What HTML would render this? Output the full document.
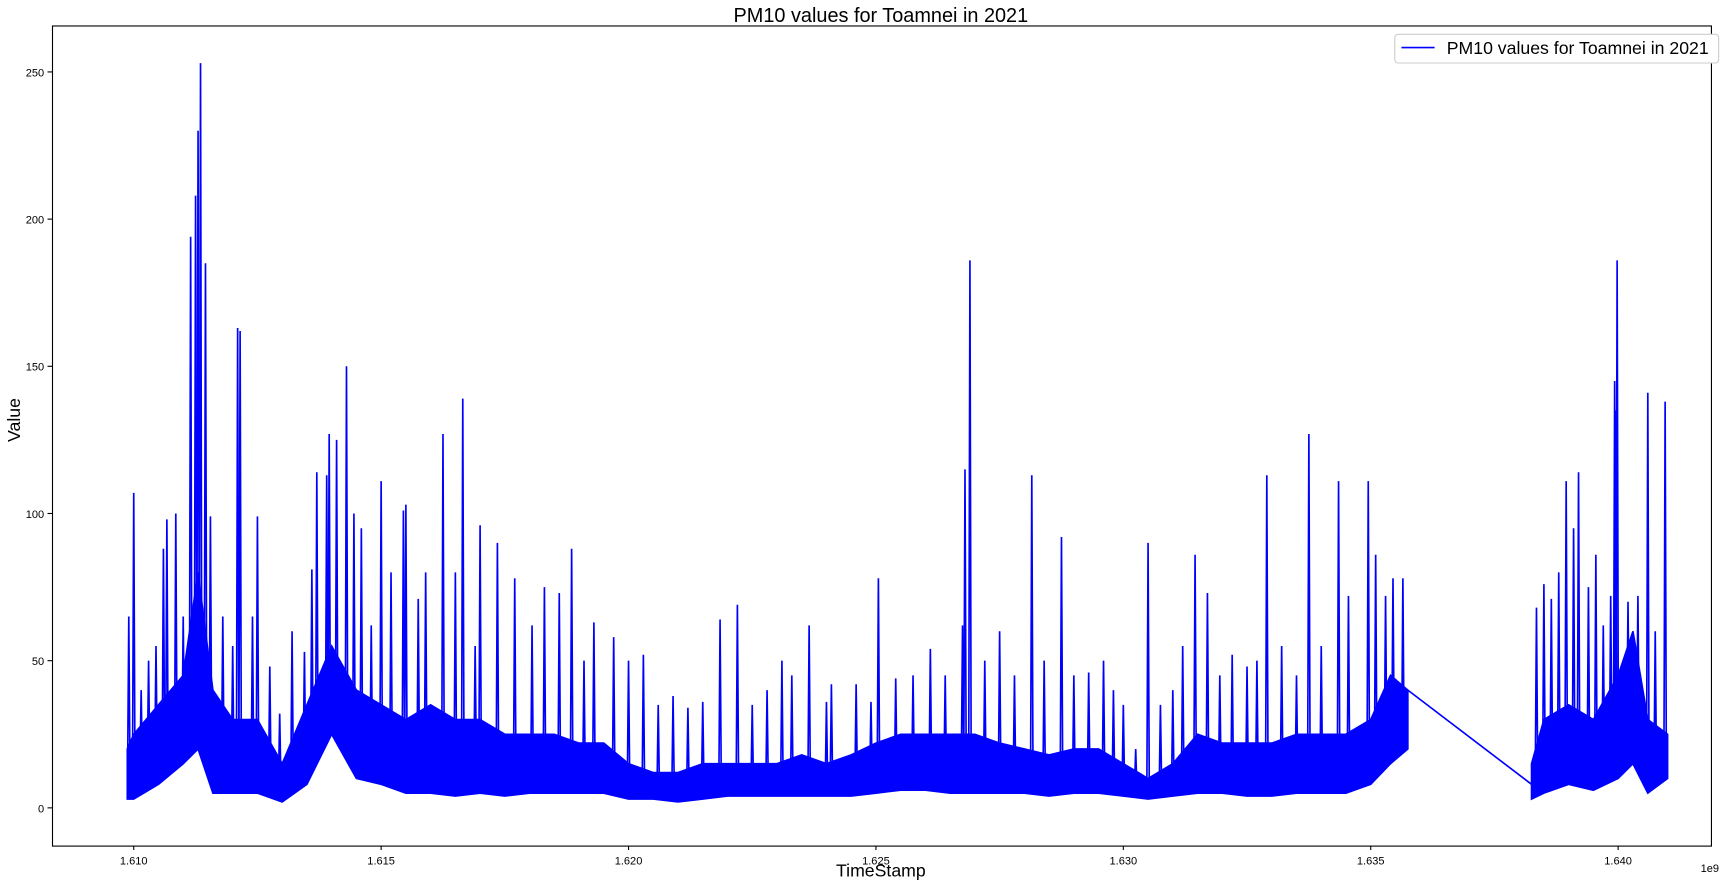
<!DOCTYPE html>
<html><head><meta charset="utf-8"><style>
html,body{margin:0;padding:0;background:#fff;}
svg{display:block;font-family:"Liberation Sans","DejaVu Sans",sans-serif;}
</style></head><body>
<svg id="chart" width="1733" height="885" viewBox="0 0 1568 800.7" preserveAspectRatio="none">
<text x="797" y="20" text-anchor="middle" font-size="18">PM10 values for Toamnei in 2021</text>
<text x="797" y="793" text-anchor="middle" font-size="16">TimeStamp</text>
<text x="18" y="380" text-anchor="middle" font-size="16" transform="rotate(-90 18 380)">Value</text>
<text x="1547" y="789" text-anchor="middle" font-size="10">1e9</text>
<g id="marks"></g>
<g id="axes"></g>
<rect x="47.5" y="23.5" width="1501" height="742" fill="none" stroke="#000" stroke-width="1"/>
<g>
<rect x="1262" y="31" width="293" height="26" rx="3" fill="#fff" stroke="#ccc"/>
<line x1="1268" y1="43" x2="1298" y2="43" stroke="#0000ff" stroke-width="1.5"/>
<text x="1309" y="49" font-size="16">PM10 values for Toamnei in 2021</text>
</g>
</svg>
<script>
const xTicks=[1610,1615,1620,1625,1630,1635,1640];
const xTickLabels=["1.610","1.615","1.620","1.625","1.630","1.635","1.640"];
const yTicks=[0,50,100,150,200,250];
const bandTimes1=[1609.87,1610,1610.5,1611,1611.3,1611.6,1612,1612.5,1613,1613.5,1614,1614.5,1615,1615.5,1616,1616.5,1617,1617.5,1618,1618.5,1619,1619.5,1620,1620.5,1621,1621.5,1622,1622.5,1623,1623.5,1624,1624.5,1625,1625.5,1626,1626.5,1627,1627.5,1628,1628.5,1629,1629.5,1630,1630.5,1631,1631.5,1632,1632.5,1633,1633.5,1634,1634.5,1635,1635.4,1635.75];
const bandTop1=[20,25,35,45,80,40,30,30,15,35,55,40,35,30,35,30,30,25,25,25,22,22,15,12,12,15,15,15,15,18,15,18,22,25,25,25,25,22,20,18,20,20,15,10,15,25,22,22,22,25,25,25,30,45,40];
const bandBottom1=[3,3,8,15,20,5,5,5,2,8,25,10,8,5,5,4,5,4,5,5,5,5,3,3,2,3,4,4,4,4,4,4,5,6,6,5,5,5,5,4,5,5,4,3,4,5,5,4,4,5,5,5,8,15,20];
const bandTimes2=[1638.25,1638.5,1639,1639.5,1640,1640.3,1640.6,1641];
const bandTop2=[15,30,35,30,45,60,30,25];
const bandBottom2=[3,5,8,6,10,15,5,10];
const gapTimes=[1635.75,1638.25];
const gapValues=[40,8];
const spikeTimes=[1609.9,1610.0,1610.15,1610.3,1610.45,1610.6,1610.67,1610.85,1611.0,1611.15,1611.25,1611.3,1611.35,1611.45,1611.55,1611.8,1612.0,1612.1,1612.15,1612.4,1612.5,1612.75,1612.95,1613.2,1613.45,1613.6,1613.7,1613.9,1613.95,1614.1,1614.3,1614.45,1614.6,1614.8,1615.0,1615.2,1615.45,1615.5,1615.75,1615.9,1616.25,1616.5,1616.65,1616.9,1617.0,1617.35,1617.7,1618.05,1618.3,1618.6,1618.85,1619.1,1619.3,1619.7,1620.0,1620.3,1620.6,1620.9,1621.2,1621.5,1621.85,1622.2,1622.5,1622.8,1623.1,1623.3,1623.65,1624.0,1624.1,1624.6,1624.9,1625.05,1625.4,1625.75,1626.1,1626.4,1626.75,1626.8,1626.9,1627.2,1627.5,1627.8,1628.15,1628.4,1628.75,1629.0,1629.3,1629.6,1629.8,1630.0,1630.25,1630.5,1630.75,1631.0,1631.2,1631.45,1631.7,1631.95,1632.2,1632.5,1632.7,1632.9,1633.2,1633.5,1633.75,1634.0,1634.35,1634.55,1634.95,1635.1,1635.3,1635.45,1635.65,1638.35,1638.5,1638.65,1638.8,1638.95,1639.1,1639.2,1639.4,1639.55,1639.7,1639.85,1639.93,1639.95,1639.98,1640.2,1640.4,1640.6,1640.75,1640.95];
const spikeValues=[65,107,40,50,55,88,98,100,65,194,208,230,253,185,99,65,55,163,162,65,99,48,32,60,53,81,114,113,127,125,150,100,95,62,111,80,101,103,71,80,127,80,139,55,96,90,78,62,75,73,88,50,63,58,50,52,35,38,34,36,64,69,35,40,50,45,62,36,42,42,36,78,44,45,54,45,62,115,186,50,60,45,113,50,92,45,46,50,40,35,20,90,35,40,55,86,73,45,52,48,50,113,55,45,127,55,111,72,111,86,72,78,78,68,76,71,80,111,95,114,75,86,62,72,145,135,186,70,72,141,60,138];

const X0=47,X1=1548,Y0=23,Y1=765;
const tMin=1608.347,tMax=1641.875,vMin=-12.8,vMax=265.8;
const xs=t=>X0+(t-tMin)/(tMax-tMin)*(X1-X0);
const ys=v=>Y1-(v-vMin)/(vMax-vMin)*(Y1-Y0);
const NS="http://www.w3.org/2000/svg";
const marks=document.getElementById('marks'),axes=document.getElementById('axes');
const BLUE="#0000ff";
function interp(ts,vs,t){if(t<=ts[0])return vs[0];for(let i=1;i<ts.length;i++){if(t<=ts[i]){const f=(t-ts[i-1])/(ts[i]-ts[i-1]);return vs[i-1]+f*(vs[i]-vs[i-1]);}}return vs[vs.length-1];}
function band(ts,top,bot,name){
  let pts=[];for(let i=0;i<ts.length;i++)pts.push(xs(ts[i])+','+ys(top[i]));
  for(let i=ts.length-1;i>=0;i--)pts.push(xs(ts[i])+','+ys(bot[i]));
  const p=document.createElementNS(NS,'polygon');p.setAttribute('points',pts.join(' '));
  p.setAttribute('fill',BLUE);p.setAttribute('stroke',BLUE);p.setAttribute('stroke-width','1.5');
  
  
  marks.appendChild(p);
}
band(bandTimes1,bandTop1,bandBottom1,'series-band-main');
band(bandTimes2,bandTop2,bandBottom2,'series-band-end');
const g=document.createElementNS(NS,'polyline');
g.setAttribute('points',gapTimes.map((t,i)=>xs(t)+','+ys(gapValues[i])).join(' '));
g.setAttribute('fill','none');g.setAttribute('stroke',BLUE);g.setAttribute('stroke-width','1.5');


marks.appendChild(g);
spikeTimes.forEach((t,i)=>{
  const inSecond=t>1637;
  const ts=inSecond?bandTimes2:bandTimes1,tp=inSecond?bandTop2:bandTop1;
  const base=interp(ts,tp,t);
  const pl=document.createElementNS(NS,'polyline');
  const d=0.025;
  pl.setAttribute('points',xs(t-d)+','+ys(interp(ts,tp,t-d)*0.5)+' '+xs(t)+','+ys(spikeValues[i])+' '+xs(t+d)+','+ys(base*0.5));
  pl.setAttribute('fill','none');pl.setAttribute('stroke',BLUE);pl.setAttribute('stroke-width','1.5');
  
  
  marks.appendChild(pl);
});
xTicks.forEach((t,i)=>{
  const x=xs(t);
  const l=document.createElementNS(NS,'line');l.setAttribute('x1',x);l.setAttribute('x2',x);l.setAttribute('y1',Y1);l.setAttribute('y2',Y1+4);l.setAttribute('stroke','#000');
  
  
  axes.appendChild(l);
  const tx=document.createElementNS(NS,'text');tx.setAttribute('x',x);tx.setAttribute('y',Y1+17);tx.setAttribute('text-anchor','middle');tx.setAttribute('font-size','10');tx.textContent=xTickLabels[i];
  
  
  axes.appendChild(tx);
});
yTicks.forEach(v=>{
  const y=ys(v);
  const l=document.createElementNS(NS,'line');l.setAttribute('x1',X0-4);l.setAttribute('x2',X0);l.setAttribute('y1',y);l.setAttribute('y2',y);l.setAttribute('stroke','#000');
  
  
  axes.appendChild(l);
  const tx=document.createElementNS(NS,'text');tx.setAttribute('x',X0-7);tx.setAttribute('y',y+4);tx.setAttribute('text-anchor','end');tx.setAttribute('font-size','10');tx.textContent=String(v);
  
  
  axes.appendChild(tx);
});
</script>
</body></html>
